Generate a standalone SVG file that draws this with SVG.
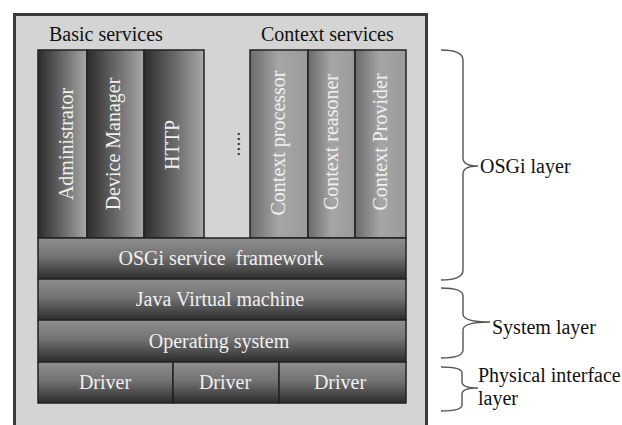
<svg xmlns="http://www.w3.org/2000/svg" width="622" height="425" viewBox="0 0 622 425">
<defs>
<linearGradient id="gBasic" x1="0" y1="0" x2="1" y2="0">
<stop offset="0" stop-color="#2c2c2c"/><stop offset="0.55" stop-color="#6e6e6e"/><stop offset="1" stop-color="#a8a8a8"/>
</linearGradient>
<linearGradient id="gCtx" x1="0" y1="0" x2="1" y2="0">
<stop offset="0" stop-color="#6a6a6a"/><stop offset="0.5" stop-color="#a6a6a6"/><stop offset="1" stop-color="#9a9a9a"/>
</linearGradient>
<linearGradient id="gBar" x1="0" y1="0" x2="0" y2="1">
<stop offset="0" stop-color="#8e8e8e"/><stop offset="0.45" stop-color="#737373"/><stop offset="1" stop-color="#2c2c2c"/>
</linearGradient>
</defs>
<style>
.col{stroke:#222;stroke-width:1.5}
.bar{fill:url(#gBar);stroke:#222;stroke-width:1.5}
.wt{font-family:"Liberation Serif","Times New Roman",serif;font-size:20px;fill:#f0f0f0;text-anchor:middle}
.bt{font-family:"Liberation Serif","Times New Roman",serif;font-size:20px;fill:#111}
.lt{font-family:"Liberation Serif","Times New Roman",serif;font-size:20px;fill:#111}
.brace{fill:none;stroke:#555;stroke-width:1.4}
</style>
<rect width="622" height="425" fill="#ffffff"/>
<g id="frame">
<rect x="14.5" y="14.5" width="412" height="420" fill="#d4d4d4" stroke="#3a3a3a" stroke-width="3"/>
<text class="bt" x="49" y="41">Basic services</text>
<text class="bt" x="261" y="41">Context services</text>
</g>
<g id="administrator"><rect class="col" x="38" y="50" width="49" height="188" fill="url(#gBasic)"/>
<text class="wt" transform="translate(73,144) rotate(-90)">Administrator</text></g>
<g id="device-manager"><rect class="col" x="87" y="50" width="57" height="188" fill="url(#gBasic)"/>
<text class="wt" transform="translate(120,144) rotate(-90)">Device Manager</text></g>
<g id="http"><rect class="col" x="144" y="50" width="60" height="188" fill="url(#gBasic)"/>
<text class="wt" transform="translate(179,145) rotate(-90)">HTTP</text></g>
<g id="dots"><text class="lt" transform="translate(240,144) rotate(-90)" style="font-size:20px;text-anchor:middle;fill:#333">.....</text></g>
<g id="context-processor"><rect class="col" x="250" y="50" width="58" height="188" fill="url(#gCtx)"/>
<text class="wt" transform="translate(285,143) rotate(-90)">Context processor</text></g>
<g id="context-reasoner"><rect class="col" x="308" y="50" width="47" height="188" fill="url(#gCtx)"/>
<text class="wt" transform="translate(338,142) rotate(-90)">Context reasoner</text></g>
<g id="context-provider"><rect class="col" x="355" y="50" width="51" height="188" fill="url(#gCtx)"/>
<text class="wt" transform="translate(387,142) rotate(-90)">Context Provider</text></g>
<g id="osgi-framework"><rect class="bar" x="38" y="238" width="368" height="41"/>
<text class="wt" x="221" y="265" xml:space="preserve">OSGi service  framework</text></g>
<g id="jvm"><rect class="bar" x="38" y="279" width="368" height="41"/>
<text class="wt" x="220" y="306">Java Virtual machine</text></g>
<g id="os"><rect class="bar" x="38" y="320" width="368" height="42"/>
<text class="wt" x="219" y="348">Operating system</text></g>
<g id="driver1"><rect class="bar" x="38" y="362" width="135" height="41"/>
<text class="wt" x="105" y="389">Driver</text></g>
<g id="driver2"><rect class="bar" x="173" y="362" width="106" height="41"/>
<text class="wt" x="225" y="389">Driver</text></g>
<g id="driver3"><rect class="bar" x="279" y="362" width="127" height="41"/>
<text class="wt" x="340" y="389">Driver</text></g>
<g id="connectors">
<path class="brace" d="M441,50 Q463,50 463,60 L463,158 Q463,166 478,166 Q463,166 463,174 L463,270 Q463,280 441,280"/>
<path class="brace" d="M441,288 Q463,288 463,296 L463,314 Q463,322 490,322 Q463,322 463,330 L463,350 Q463,358 441,358"/>
<path class="brace" d="M441,367 Q462,367 462,373 L462,382 Q462,388 478,388 Q462,388 462,394 L462,405 Q462,411 441,411"/>
</g>
<g id="labels">
<text class="lt" x="480" y="173">OSGi layer</text>
<text class="lt" x="492" y="334">System layer</text>
<text class="lt" x="478" y="382">Physical interface</text>
<text class="lt" x="478" y="405">layer</text>
</g>
</svg>
